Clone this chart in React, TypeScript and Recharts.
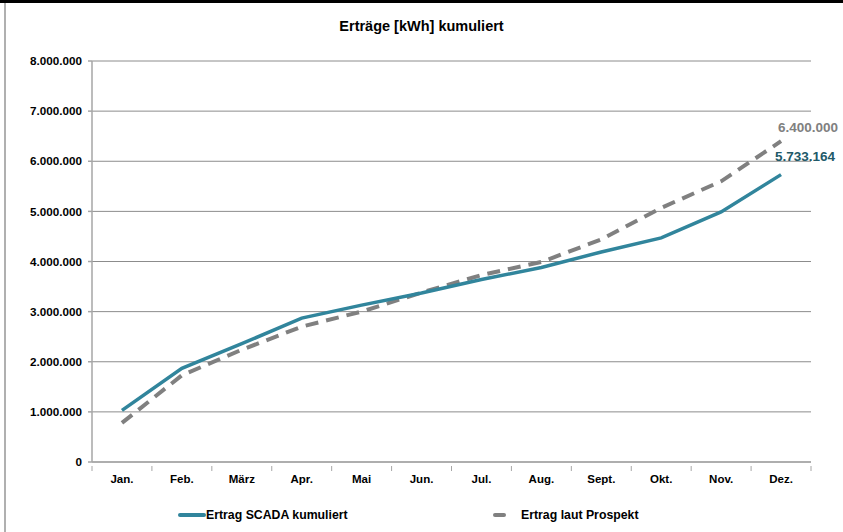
import React from 'react';
import {
  LineChart, Line, XAxis, YAxis, CartesianGrid,
} from 'recharts';

const MONTHS = ['Jan.', 'Feb.', 'März', 'Apr.', 'Mai', 'Jun.', 'Jul.', 'Aug.', 'Sept.', 'Okt.', 'Nov.', 'Dez.'];

// cumulative yield in kWh
const SCADA = [1030000, 1870000, 2360000, 2870000, 3130000, 3370000, 3640000, 3880000, 4190000, 4470000, 4990000, 5733164];
const PROSPEKT = [780000, 1730000, 2240000, 2700000, 3000000, 3380000, 3730000, 3990000, 4440000, 5070000, 5600000, 6400000];

const Y_TICKS = [0, 1000000, 2000000, 3000000, 4000000, 5000000, 6000000, 7000000, 8000000];

const TEAL = '#31859c';
const TEAL_DARK = '#215968';
const GRAY = '#808080';
const FONT = 'Arial, "Liberation Sans", sans-serif';

const fmt = (n: number) => String(Math.round(n)).replace(/\B(?=(\d{3})+(?!\d))/g, '.');

const data = MONTHS.map((m, i) => ({ month: m, scada: SCADA[i], prospekt: PROSPEKT[i] }));

function MonthTick({ x, y, payload, index }: any) {
  const half = 719 / 12 / 2;
  return (
    <g>
      <line x1={x - half} x2={x - half} y1={y - 4} y2={y + 1} stroke="#a6a6a6" />
      {index === MONTHS.length - 1 && (
        <line x1={x + half} x2={x + half} y1={y - 4} y2={y + 1} stroke="#a6a6a6" />
      )}
      <text x={x} y={y + 13} textAnchor="middle" fontSize={11.5} fontWeight="bold" fill="#000" fontFamily={FONT}>
        {payload.value}
      </text>
    </g>
  );
}

const endLabel = (color: string, dx: number, dy: number) => (props: any) => {
  const { x, y, index, value } = props;
  if (index !== MONTHS.length - 1) return null;
  return (
    <text x={x + dx} y={y + dy} fontSize={13.5} fontWeight="bold" fill={color} fontFamily={FONT}>
      {fmt(value)}
    </text>
  );
};

function ChartLegend() {
  return (
    <div style={{ position: 'absolute', left: 0, top: 508, width: 843, height: 16, fontSize: 12.3, fontWeight: 'bold' }}>
      <div style={{ position: 'absolute', left: 178, top: 0, display: 'flex', alignItems: 'center' }}>
        <span style={{ display: 'inline-block', width: 28, height: 4, borderRadius: 2, background: TEAL }} />
        <span>Ertrag SCADA kumuliert</span>
      </div>
      <div style={{ position: 'absolute', left: 493, top: 0, display: 'flex', alignItems: 'center' }}>
        <span style={{ display: 'inline-block', width: 13, height: 4, borderRadius: 2, background: GRAY, marginRight: 15 }} />
        <span>Ertrag laut Prospekt</span>
      </div>
    </div>
  );
}

export default function App() {
  return (
    <div style={{ position: 'absolute', left: 0, top: 0, width: 843, height: 532, background: '#fff', fontFamily: FONT }}>
      <div style={{ position: 'absolute', left: 0, top: 0, width: 843, height: 3, background: '#000' }} />
      <div style={{ position: 'absolute', left: 4, top: 3, width: 2, height: 529, background: '#b0b0b0' }} />
      <div style={{ position: 'absolute', left: 0, top: 18, width: 843, textAlign: 'center', fontSize: 14.5, fontWeight: 'bold' }}>
        Erträge [kWh] kumuliert
      </div>
      <LineChart width={843} height={532} data={data} margin={{ top: 61, right: 32, bottom: 40, left: 0 }}>
        <CartesianGrid vertical={false} stroke="#8c8c8c" />
        <XAxis
          dataKey="month"
          scale="band"
          height={30}
          stroke="#a6a6a6"
          strokeWidth={1.5}
          tickLine={false}
          tick={<MonthTick />}
          interval={0}
        />
        <YAxis
          width={92}
          domain={[0, 8000000]}
          ticks={Y_TICKS}
          interval={0}
          tickFormatter={fmt}
          stroke="#a6a6a6"
          strokeWidth={1.5}
          tickSize={4}
          tickMargin={6}
          tick={{ fill: '#000', fontSize: 11.7, fontWeight: 'bold', fontFamily: FONT }}
        />
        <Line
          type="linear"
          dataKey="prospekt"
          name="Ertrag laut Prospekt"
          stroke={GRAY}
          strokeWidth={4}
          strokeDasharray="13 8"
          dot={false}
          isAnimationActive={false}
          label={endLabel(GRAY, -3, -9)}
        />
        <Line
          type="linear"
          dataKey="scada"
          name="Ertrag SCADA kumuliert"
          stroke={TEAL}
          strokeWidth={3.5}
          dot={false}
          isAnimationActive={false}
          label={endLabel(TEAL_DARK, -6, -14)}
        />
      </LineChart>
      <ChartLegend />
    </div>
  );
}
